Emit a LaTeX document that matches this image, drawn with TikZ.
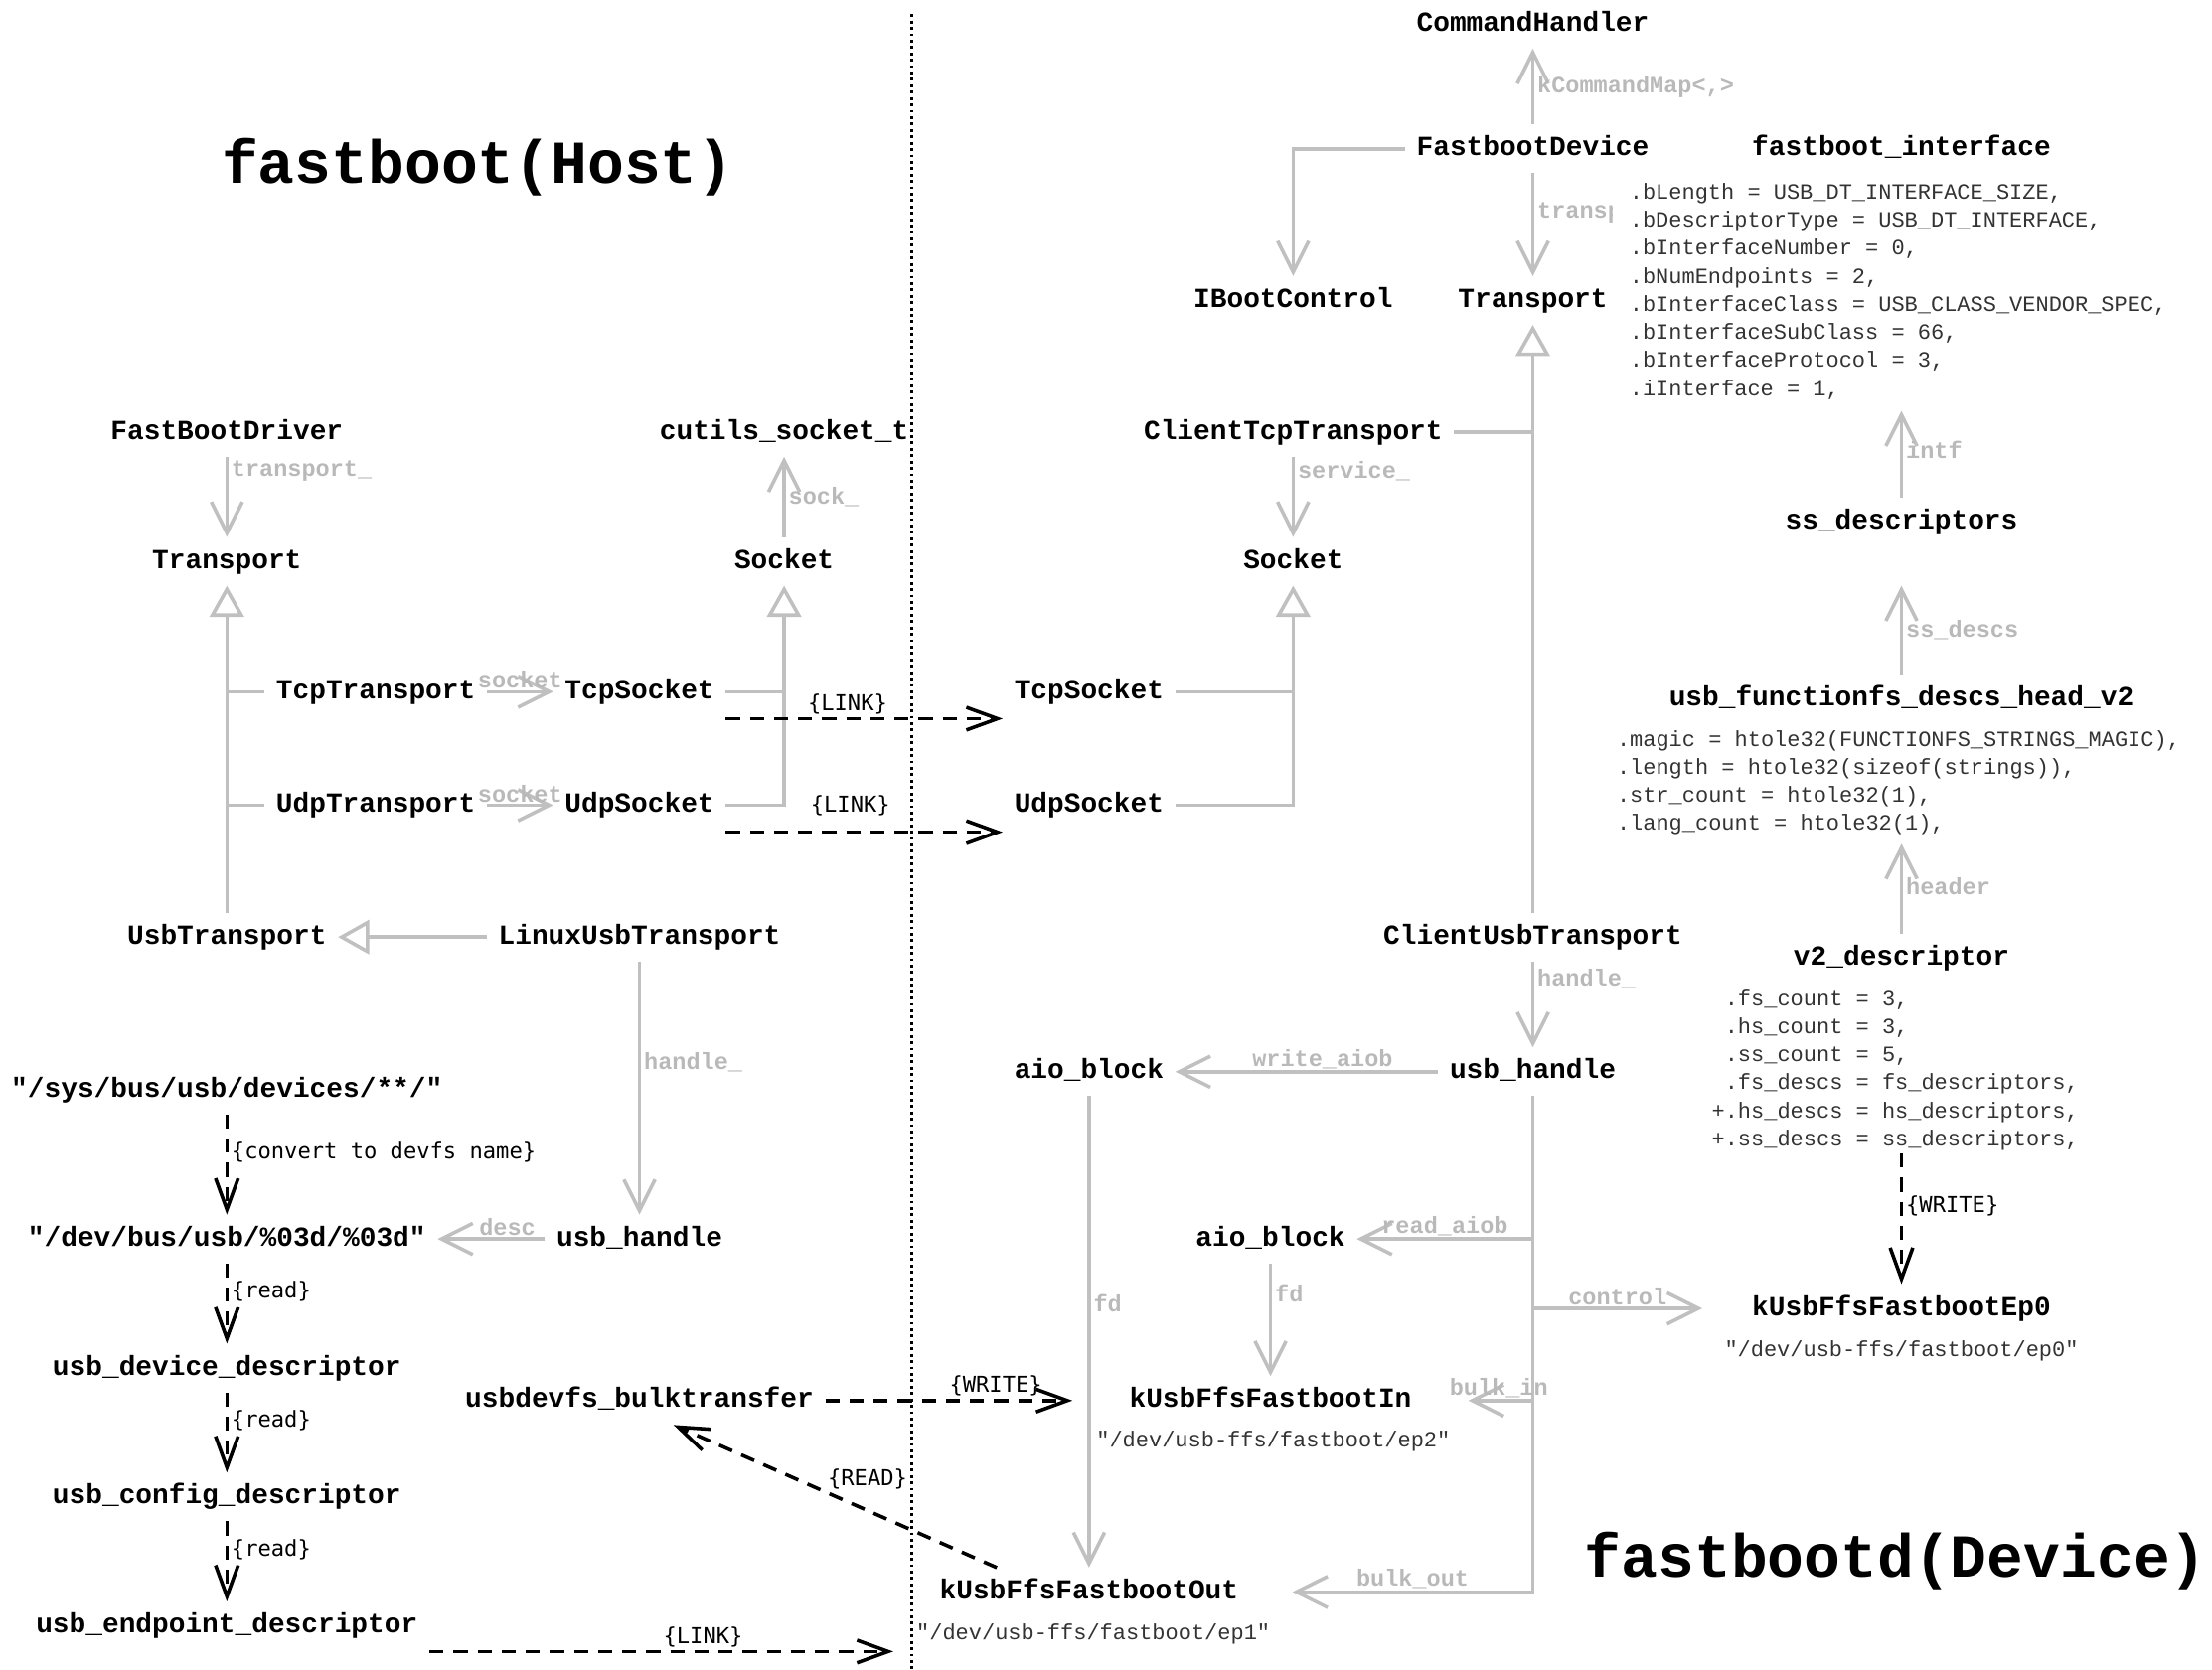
\documentclass[tikz,border=0pt]{standalone}
\usepackage{fontspec}
\setmonofont{Liberation Mono}
\newfontfamily\actfont{DejaVu Sans Mono}
\usepackage{xcolor}
\definecolor{edge-gray}{RGB}{192,192,192}
\definecolor{role-gray}{RGB}{185,185,185}
\definecolor{field-dark}{RGB}{51,51,51}
\usepackage{tikz}
\usetikzlibrary{arrows.meta,positioning}

\begin{document}
\begin{tikzpicture}[x=1pt, y=-1pt,
    cls/.style={font=\ttfamily\bfseries\fontsize{19.5pt}{22pt}\selectfont, text height=14pt, text depth=4pt, inner xsep=8pt, inner ysep=8pt},
    title/.style={font=\ttfamily\bfseries\fontsize{43pt}{48pt}\selectfont, inner sep=0pt},
    fields/.style={font=\ttfamily\fontsize{15.4pt}{19.8pt}\selectfont, text=field-dark, align=left, inner xsep=12pt, inner ysep=2pt},
    role/.style={font=\ttfamily\bfseries\fontsize{16.5pt}{18pt}\selectfont, text=role-gray, inner sep=2pt},
    act/.style={font=\actfont\fontsize{15.5pt}{18pt}\selectfont, text=black, inner sep=2pt},
    branch/.style={draw=edge-gray, line width=2.5pt},
    assoc/.style={branch, -{Straight Barb[length=22pt,width=22pt]}},
    inherit/.style={branch, -{Triangle[length=22pt,width=24pt,fill=white]}},
    flow/.style={draw=black, line width=2.5pt, dash pattern=on 10pt off 7pt, -{Straight Barb[length=22pt,width=16pt]}}
]
\useasboundingbox (0,0) rectangle (1560,1178);

% Host side classes
\node[title] (hosttitle) at (337,118) {fastboot(Host)};
\node[cls] (hostdriver) at (160,305) {FastBootDriver};
\node[cls] (hosttransport) at (160,396) {Transport};
\node[cls] (tcptransport) at (265,488) {TcpTransport};
\node[cls] (udptransport) at (265,568) {UdpTransport};
\node[cls] (usbtransport) at (160,661) {UsbTransport};
\node[cls] (linuxusb) at (451,661) {LinuxUsbTransport};
\node[cls] (cutilssock) at (553,305) {cutils\_socket\_t};
\node[cls] (hostsocket) at (553,396) {Socket};
\node[cls] (hosttcpsock) at (451,488) {TcpSocket};
\node[cls] (hostudpsock) at (451,568) {UdpSocket};
\node[cls] (hosthandle) at (451,874) {usb\_handle};
\node[cls] (bulkxfer) at (451,988) {usbdevfs\_bulktransfer};

% Host side descriptor chain
\node[cls] (syspath) at (160,769) {"/sys/bus/usb/devices/**/"};
\node[cls] (devpath) at (160,874) {"/dev/bus/usb/\%03d/\%03d"};
\node[cls] (devdesc) at (160,965) {usb\_device\_descriptor};
\node[cls] (cfgdesc) at (160,1056) {usb\_config\_descriptor};
\node[cls] (epdesc) at (160,1147) {usb\_endpoint\_descriptor};
\coordinate (linkend) at (630,1165);

% Device side classes
\node[title] (devtitle) at (1337,1101) {fastbootd(Device)};
\node[cls] (cmdhandler) at (1081,17) {CommandHandler};
\node[cls] (fbdevice) at (1081,105) {FastbootDevice};
\node[cls] (bootctl) at (912,212) {IBootControl};
\node[cls] (devtransport) at (1081,212) {Transport};
\node[cls] (clienttcp) at (912,305) {ClientTcpTransport};
\node[cls] (devsocket) at (912,396) {Socket};
\node[cls] (devtcpsock) at (768,488) {TcpSocket};
\node[cls] (devudpsock) at (768,568) {UdpSocket};
\node[cls] (clientusb) at (1081,661) {ClientUsbTransport};
\node[cls] (devhandle) at (1081,756) {usb\_handle};
\node[cls] (writeaio) at (768,756) {aio\_block};
\node[cls] (readaio) at (896,874) {aio\_block};
\node[cls] (epin) at (896,988) {kUsbFfsFastbootIn};
\node[fields] (epinpath) at (898,1017) {"/dev/usb-ffs/fastboot/ep2"};
\node[cls] (epout) at (768,1123) {kUsbFfsFastbootOut};
\node[fields] (epoutpath) at (771,1153) {"/dev/usb-ffs/fastboot/ep1"};

% Device side descriptors
\node[cls] (fbiface) at (1341,105) {fastboot\_interface};
\node[cls] (ssdesc) at (1341,368) {ss\_descriptors};
\node[cls] (fshead) at (1341,493) {usb\_functionfs\_descs\_head\_v2};
\node[fields, anchor=north west] (fsheadfields) at (1128,513) {%
.magic = htole32(FUNCTIONFS\_STRINGS\_MAGIC),\\
.length = htole32(sizeof(strings)),\\
.str\_count = htole32(1),\\
.lang\_count = htole32(1),};
\node[cls] (v2desc) at (1341,676) {v2\_descriptor};
\node[fields, anchor=north west] (v2fields) at (1195,696) {%
\phantom{+}.fs\_count = 3,\\
\phantom{+}.hs\_count = 3,\\
\phantom{+}.ss\_count = 5,\\
\phantom{+}.fs\_descs = fs\_descriptors,\\
+.hs\_descs = hs\_descriptors,\\
+.ss\_descs = ss\_descriptors,};
\node[cls] (ep0) at (1341,923) {kUsbFfsFastbootEp0};
\node[fields] (ep0path) at (1341,953) {"/dev/usb-ffs/fastboot/ep0"};

% Host / device divider
\draw[line width=2pt, dash pattern=on 2pt off 2.5pt] (643,10) -- (643,1180);

% Host side connectors
\draw[assoc] (hostdriver) -- node[role, right, pos=0.18] {transport\_} (hosttransport);
\draw[assoc] (hostsocket) -- node[role, right, pos=0.5] {sock\_} (cutilssock);
\draw[inherit] (usbtransport) -- (hosttransport);
\draw[branch] (tcptransport.west) -- (tcptransport.west -| hosttransport);
\draw[branch] (udptransport.west) -- (udptransport.west -| hosttransport);
\draw[assoc] (tcptransport) -- node[role, above, inner sep=1pt] {socket} (hosttcpsock);
\draw[assoc] (udptransport) -- node[role, above, inner sep=1pt] {socket} (hostudpsock);
\draw[inherit] (hostudpsock.east) -| (hostsocket.south);
\draw[branch] (hosttcpsock.east) -- (hosttcpsock.east -| hostsocket);
\draw[inherit] (linuxusb) -- (usbtransport);
\draw[assoc] (linuxusb) -- node[role, right, pos=0.4] {handle\_} (hosthandle);
\draw[assoc] (hosthandle) -- node[role, above, inner sep=1pt, pos=0.35] {desc} (devpath);

% Host side data flow
\draw[flow] (syspath) -- node[act, right, pos=0.38] {\{convert to devfs name\}} (devpath);
\draw[flow] (devpath) -- node[act, right, pos=0.35] {\{read\}} (devdesc);
\draw[flow] (devdesc) -- node[act, right, pos=0.35] {\{read\}} (cfgdesc);
\draw[flow] (cfgdesc) -- node[act, right, pos=0.35] {\{read\}} (epdesc);
\draw[flow] ([yshift=-18pt]epdesc.east) -- node[act, above, pos=0.59] {\{LINK\}} (linkend);
\draw[flow] ([yshift=-19pt]hosttcpsock.east) -- node[act, above, pos=0.44] {\{LINK\}} ([yshift=-19pt]devtcpsock.west);
\draw[flow] ([yshift=-19pt]hostudpsock.east) -- node[act, above=8pt, pos=0.45] {\{LINK\}} ([yshift=-19pt]devudpsock.west);
\draw[flow] (bulkxfer.east) -- node[act, above, pos=0.69] {\{WRITE\}} ([xshift=-32pt]epin.west);
\draw[flow] ([xshift=-65pt]epout.north) -- node[act, above=12pt, pos=0.4] {\{READ\}} ([xshift=24pt]bulkxfer.south);

% Device side connectors
\draw[assoc] (fbdevice) -- node[role, right, pos=0.5] {kCommandMap<,>} (cmdhandler);
\draw[assoc] (fbdevice.west) -| (bootctl.north);
\draw[assoc] (fbdevice) -- node[role, right, pos=0.38] {transport\_} (devtransport);
\node[fields, fill=white, anchor=north west] (ifacefields) at (1137,127) {%
.bLength = USB\_DT\_INTERFACE\_SIZE,\\
.bDescriptorType = USB\_DT\_INTERFACE,\\
.bInterfaceNumber = 0,\\
.bNumEndpoints = 2,\\
.bInterfaceClass = USB\_CLASS\_VENDOR\_SPEC,\\
.bInterfaceSubClass = 66,\\
.bInterfaceProtocol = 3,\\
.iInterface = 1,};
\draw[inherit] (clientusb) -- (devtransport);
\draw[branch] (clienttcp.east) -- (clienttcp.east -| devtransport);
\draw[assoc] (clienttcp) -- node[role, right, pos=0.18] {service\_} (devsocket);
\draw[inherit] (devudpsock.east) -| (devsocket.south);
\draw[branch] (devtcpsock.east) -- (devtcpsock.east -| devsocket);
\draw[assoc] (clientusb) -- node[role, right, pos=0.2] {handle\_} (devhandle);
\draw[assoc] (devhandle) -- node[role, above, inner sep=1pt, pos=0.44] {write\_aiob} (writeaio);
\draw[assoc] (writeaio) -- node[role, right, pos=0.44] {fd} (epout);
\draw[assoc] (devhandle.south) |- node[role, above, inner sep=1pt, pos=0.75] {bulk\_out} ([xshift=30pt]epout.east);
\draw[assoc] (readaio.east -| devhandle) -- node[role, above, inner sep=1pt] {read\_aiob} (readaio.east);
\draw[assoc] (ep0.west -| devhandle) -- node[role, above, inner sep=1pt] {control} ([xshift=-27pt]ep0.west);
\draw[assoc] (epin.east -| devhandle) -- node[role, above, inner sep=1pt, pos=0.53] {bulk\_in} ([xshift=32pt]epin.east);
\draw[assoc] (readaio) -- node[role, right, pos=0.27] {fd} (epin);

% Descriptor chain
\draw[assoc, shorten >=6pt] (ssdesc) -- node[role, right] {intf} (ssdesc |- ifacefields.south);
\draw[assoc] (fshead) -- node[role, right] {ss\_descs} ([yshift=-28pt]ssdesc.south);
\draw[assoc, shorten >=4pt] (v2desc) -- node[role, right] {header} (v2desc |- fsheadfields.south);
\draw[flow] (v2desc |- v2fields.south) -- node[act, right, pos=0.4] {\{WRITE\}} (ep0);

\end{tikzpicture}
\end{document}
